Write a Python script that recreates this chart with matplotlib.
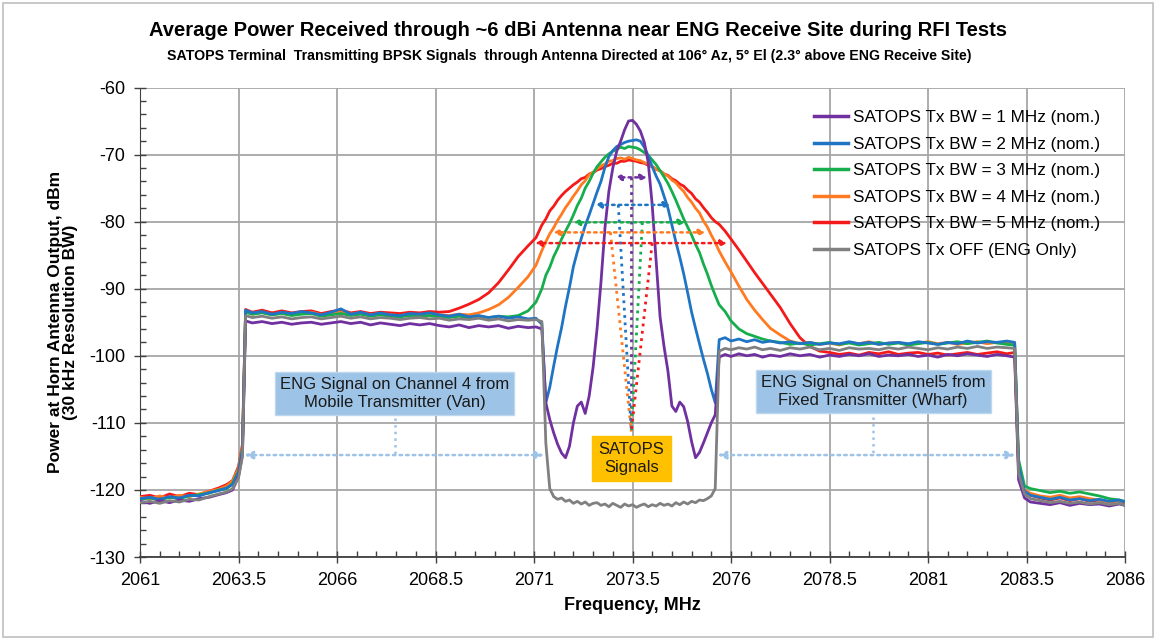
import matplotlib
matplotlib.use("Agg")
import matplotlib.pyplot as plt
from matplotlib.ticker import MultipleLocator
from matplotlib.patches import Rectangle

# frequency grid (MHz), split into spectral regions
freq_lo = [2061.0, 2061.25, 2061.5, 2061.75, 2062.0, 2062.25, 2062.5, 2062.75,
           2063.0, 2063.2, 2063.35, 2063.5, 2063.6]
freq_ch4 = [2063.68, 2063.85, 2064.1, 2064.35, 2064.6, 2064.85, 2065.1, 2065.35,
            2065.6, 2065.85, 2066.1, 2066.35, 2066.6, 2066.85, 2067.1, 2067.35,
            2067.6, 2067.85, 2068.1, 2068.35, 2068.6, 2068.85, 2069.1, 2069.35,
            2069.6, 2069.85, 2070.1, 2070.35, 2070.6, 2070.85, 2071.05]
freq_mid = [2071.2, 2071.3, 2071.4, 2071.5, 2071.6, 2071.7, 2071.8, 2071.9,
            2072.0, 2072.1, 2072.2, 2072.3, 2072.4, 2072.5, 2072.6, 2072.7,
            2072.8, 2072.9, 2073.0, 2073.1, 2073.2, 2073.3, 2073.4, 2073.5,
            2073.6, 2073.7, 2073.8, 2073.9, 2074.0, 2074.1, 2074.2, 2074.3,
            2074.4, 2074.5, 2074.6, 2074.7, 2074.8, 2074.9, 2075.0, 2075.1,
            2075.2, 2075.3, 2075.4, 2075.5, 2075.6]
freq_ch5 = [2075.7, 2075.85, 2076.0, 2076.2, 2076.4, 2076.6, 2076.8, 2077.0,
            2077.25, 2077.5, 2077.75, 2078.0, 2078.25, 2078.5, 2078.75, 2079.0,
            2079.25, 2079.5, 2079.75, 2080.0, 2080.25, 2080.5, 2080.75, 2081.0,
            2081.25, 2081.5, 2081.75, 2082.0, 2082.25, 2082.5, 2082.75, 2083.0,
            2083.2]
freq_hi = [2083.3, 2083.45, 2083.6, 2083.85, 2084.1, 2084.35, 2084.6, 2084.85,
           2085.1, 2085.35, 2085.6, 2085.85, 2086.0]

# ---- SATOPS Tx BW = 1 MHz (purple)
bw1_lo = [-121.7, -122.0, -121.6, -121.9, -121.5, -121.7, -121.3, -121.1, -120.7, -120.4, -120.0, -118.0, -114.8]
bw1_ch4 = [-94.8, -95.1, -94.9, -95.2, -95.0, -95.3, -95.1, -95.0, -95.3, -95.1, -94.9, -95.2, -95.0, -95.4, -95.1, -95.3,
           -95.5, -95.2, -95.4, -95.2, -95.5, -95.7, -95.4, -95.8, -95.5, -95.7, -95.5, -95.9, -95.6, -95.8, -95.7]
bw1_mid = [-96.0, -107.0, -109.5, -111.5, -113.2, -114.5, -115.2, -113.5, -110.0, -107.5, -106.9, -108.6, -106.0, -101.7,
           -96.0, -89.0, -81.0, -75.5, -72.0, -69.5, -68.0, -66.3, -65.0, -64.9, -65.5, -66.5, -68.2, -71.2, -77.5, -85.8,
           -94.2, -98.6, -102.3, -107.5, -108.3, -106.9, -107.6, -109.8, -112.8, -115.2, -114.4, -113.0, -111.5, -110.0, -108.8]
bw1_ch5 = [-100.2, -99.8, -100.1, -99.7, -100.0, -99.8, -100.2, -99.9, -100.1, -99.7, -100.0, -99.8, -100.2, -99.9, -100.1,
           -99.8, -100.0, -99.7, -100.1, -99.9, -100.0, -99.8, -100.1, -99.9, -100.2, -99.8, -100.0, -99.7, -99.9, -100.1,
           -99.8, -100.0, -100.2]
bw1_hi = [-118.5, -121.2, -121.8, -122.0, -122.2, -121.9, -122.3, -122.0, -122.2, -122.1, -122.4, -122.1, -122.3]

# ---- SATOPS Tx BW = 2 MHz (blue)
bw2_lo = [-121.3, -121.1, -121.4, -121.0, -121.2, -120.8, -120.9, -120.4, -120.1, -119.7, -119.2, -117.4, -114.0]
bw2_ch4 = [-93.2, -93.6, -93.4, -93.8, -93.5, -93.7, -93.4, -93.6, -93.9, -93.5, -93.0, -93.8, -93.5, -93.9, -93.6, -93.9,
           -94.0, -93.7, -93.8, -93.6, -93.9, -94.1, -93.8, -94.2, -94.0, -94.3, -94.1, -94.4, -94.2, -94.5, -94.4]
bw2_mid = [-95.3, -107.0, -104.7, -101.5, -98.5, -95.8, -92.6, -89.8, -86.7, -84.5, -82.5, -80.6, -79.0, -77.3, -75.6,
           -74.0, -71.9, -70.3, -69.4, -68.8, -68.5, -68.2, -68.0, -67.9, -67.8, -68.0, -68.9, -70.2, -71.8, -73.2,
           -74.4, -76.2, -78.0, -80.5, -83.0, -85.3, -87.8, -90.6, -93.5, -95.9, -98.2, -100.5, -102.6, -105.0, -107.0]
bw2_ch5 = [-97.6, -97.3, -97.8, -97.5, -97.9, -97.6, -98.0, -97.8, -98.1, -97.9, -98.2, -98.0, -98.3, -98.1, -98.2,
           -97.9, -98.2, -98.0, -98.3, -98.1, -98.0, -98.2, -97.9, -98.1, -98.3, -98.0, -98.2, -97.8, -98.1, -97.9,
           -98.0, -97.8, -98.0]
bw2_hi = [-116.5, -120.2, -120.8, -121.1, -121.4, -121.1, -121.5, -121.3, -121.6, -121.4, -121.7, -121.5, -121.8]

# ---- SATOPS Tx BW = 3 MHz (green)
bw3_lo = [-121.4, -121.2, -121.5, -121.1, -121.3, -120.9, -120.7, -120.5, -120.0, -119.8, -119.0, -117.2, -113.8]
bw3_ch4 = [-93.5, -93.8, -93.6, -93.9, -93.7, -94.0, -93.8, -93.7, -94.1, -93.9, -93.7, -94.0, -93.8, -94.1, -93.9, -94.1,
           -94.2, -94.0, -94.2, -94.0, -94.2, -94.3, -94.1, -94.4, -94.2, -94.3, -94.1, -94.2, -94.0, -93.3, -92.0]
bw3_mid = [-90.0, -88.0, -86.8, -85.2, -84.0, -82.6, -81.4, -80.3, -79.0, -77.6, -76.5, -75.0, -74.0, -72.8, -71.8,
           -71.1, -70.4, -69.9, -69.5, -69.2, -68.9, -69.1, -68.8, -68.9, -69.0, -69.3, -69.7, -70.1, -70.8, -71.5,
           -72.4, -73.3, -74.3, -75.5, -76.8, -78.2, -79.6, -80.8, -82.0, -83.4, -84.6, -86.3, -87.8, -89.5, -91.0]
bw3_ch5 = [-92.4, -93.4, -94.8, -96.0, -96.7, -97.1, -97.5, -97.8, -98.0, -98.3, -98.1, -98.4, -98.2, -98.0, -98.3,
           -98.1, -98.4, -98.2, -98.0, -98.3, -98.1, -98.4, -98.2, -98.0, -98.3, -98.1, -97.9, -98.2, -98.0, -97.8,
           -98.1, -98.3, -98.4]
bw3_hi = [-115.5, -119.4, -119.8, -120.1, -120.4, -120.2, -120.5, -120.3, -120.6, -120.9, -121.3, -121.5, -121.7]

# ---- SATOPS Tx BW = 4 MHz (orange)
bw4_lo = [-121.1, -121.3, -120.9, -121.2, -120.8, -121.0, -120.6, -120.2, -119.9, -119.4, -118.7, -116.8, -113.5]
bw4_ch4 = [-93.4, -93.8, -93.5, -93.9, -93.6, -93.9, -93.6, -93.5, -93.9, -93.7, -93.5, -93.8, -93.6, -93.9, -93.7, -93.9,
           -94.0, -93.8, -94.0, -93.8, -93.9, -94.0, -93.8, -93.9, -93.6, -93.1, -92.4, -91.3, -89.8, -88.2, -86.5]
bw4_mid = [-84.3, -83.0, -81.8, -80.9, -79.8, -78.9, -77.9, -77.1, -76.2, -75.4, -74.5, -73.9, -73.0, -72.6, -72.1,
           -71.7, -71.4, -71.0, -70.9, -70.6, -70.5, -70.7, -70.4, -70.6, -70.8, -70.9, -71.2, -71.4, -71.8, -72.2,
           -72.4, -72.9, -73.2, -73.8, -74.2, -74.9, -75.5, -76.4, -77.1, -78.0, -78.7, -79.9, -80.8, -82.0, -83.1]
bw4_ch5 = [-84.4, -86.0, -87.5, -89.6, -91.6, -93.2, -94.6, -95.9, -96.9, -97.8, -98.2, -98.0, -98.3, -98.1, -98.4,
           -98.0, -98.2, -97.9, -98.3, -98.1, -98.0, -98.3, -98.1, -97.9, -98.2, -98.0, -98.3, -98.1, -97.9, -98.2,
           -98.0, -98.1, -98.2]
bw4_hi = [-116.8, -120.0, -120.5, -120.9, -121.1, -120.8, -121.2, -121.0, -121.3, -121.5, -121.8, -121.6, -121.9]

# ---- SATOPS Tx BW = 5 MHz (red)
bw5_lo = [-121.0, -120.8, -121.2, -120.6, -121.0, -120.5, -120.7, -120.2, -119.7, -119.2, -118.6, -116.5, -113.2]
bw5_ch4 = [-93.1, -93.5, -93.2, -93.6, -93.3, -93.6, -93.4, -93.3, -93.7, -93.4, -93.2, -93.6, -93.4, -93.7, -93.5, -93.6,
           -93.7, -93.5, -93.6, -93.4, -93.5, -93.4, -92.9, -92.3, -91.6, -90.6, -89.1, -87.2, -85.2, -83.6, -82.4]
bw5_mid = [-80.5, -79.6, -78.4, -77.7, -76.8, -76.1, -75.5, -75.0, -74.5, -74.1, -73.6, -73.4, -72.9, -72.7, -72.3,
           -72.1, -71.8, -71.6, -71.3, -71.3, -71.0, -71.0, -70.8, -70.9, -71.0, -71.2, -71.3, -71.6, -71.8, -72.2,
           -72.4, -72.9, -73.1, -73.6, -73.9, -74.4, -74.7, -75.3, -75.8, -76.6, -77.1, -77.9, -78.6, -79.4, -80.0]
bw5_ch5 = [-80.4, -81.4, -82.6, -84.2, -85.9, -87.6, -89.2, -90.8, -92.8, -95.2, -97.3, -98.6, -99.3, -99.5, -99.8,
           -99.6, -99.9, -99.5, -99.7, -99.4, -99.8, -99.6, -99.5, -99.8, -99.6, -99.9, -99.7, -99.5, -99.8, -99.6,
           -99.4, -99.7, -99.5]
bw5_hi = [-117.0, -120.3, -120.8, -121.2, -121.5, -121.2, -121.6, -121.3, -121.7, -121.5, -121.8, -121.6, -122.0]

# ---- SATOPS Tx OFF (gray)
off_lo = [-121.9, -121.7, -122.0, -121.6, -121.8, -121.4, -121.5, -121.0, -120.6, -120.3, -119.8, -118.2, -115.0]
off_ch4 = [-94.0, -94.3, -94.1, -94.4, -94.2, -94.5, -94.3, -94.2, -94.5, -94.3, -94.1, -94.4, -94.2, -94.5, -94.3, -94.4,
           -94.6, -94.4, -94.3, -94.5, -94.4, -94.7, -94.5, -94.6, -94.4, -94.7, -94.5, -94.8, -94.6, -94.7, -94.6]
off_mid = [-94.9, -113.0, -119.8, -121.0, -121.4, -121.2, -121.7, -121.5, -122.0, -121.7, -122.1, -121.8, -122.3, -122.0,
           -121.9, -122.3, -122.1, -122.5, -122.0, -122.3, -122.6, -122.1, -122.4, -122.2, -122.6, -122.3, -122.1,
           -122.5, -122.2, -122.4, -122.0, -122.3, -122.1, -122.4, -121.9, -122.2, -121.8, -122.1, -121.7, -121.9,
           -121.5, -121.6, -121.3, -120.9, -119.8]
off_ch5 = [-99.3, -98.9, -99.1, -98.8, -99.0, -98.7, -99.1, -98.9, -99.2, -98.8, -99.0, -98.7, -99.1, -98.9, -99.2,
           -98.8, -99.0, -98.9, -99.1, -98.8, -99.0, -98.7, -98.9, -99.1, -98.8, -99.0, -98.7, -98.9, -98.6, -98.9,
           -98.7, -98.8, -98.9]
off_hi = [-117.5, -120.6, -121.3, -121.6, -121.9, -121.7, -122.0, -121.8, -122.1, -121.9, -122.2, -122.0, -122.3]

labels = ["SATOPS Tx BW = 1 MHz (nom.)", "SATOPS Tx BW = 2 MHz (nom.)",
          "SATOPS Tx BW = 3 MHz (nom.)", "SATOPS Tx BW = 4 MHz (nom.)",
          "SATOPS Tx BW = 5 MHz (nom.)", "SATOPS Tx OFF (ENG Only)"]
colors = ["#7030A0", "#1F74C4", "#16AE4C", "#FF7A21", "#F41A1A", "#808080"]
x_ticks = [2061, 2063.5, 2066, 2068.5, 2071, 2073.5, 2076, 2078.5, 2081, 2083.5, 2086]
x_ticklabels = ["2061", "2063.5", "2066", "2068.5", "2071", "2073.5", "2076",
                "2078.5", "2081", "2083.5", "2086"]

# occupied-bandwidth markers (purple, blue, green, orange, red)
bw_lo = [2073.06, 2072.55, 2072.0, 2071.49, 2071.03]
bw_hi = [2073.87, 2074.46, 2074.84, 2075.35, 2075.9]
bw_level = [-73.4, -77.5, -80.1, -81.6, -83.2]
bw_drop = [2073.47, 2073.14, 2073.75, 2072.94, 2074.0]
apex_f, apex_v = 2073.47, -111.3

freq = freq_lo + freq_ch4 + freq_mid + freq_ch5 + freq_hi
series = [
    bw1_lo + bw1_ch4 + bw1_mid + bw1_ch5 + bw1_hi,
    bw2_lo + bw2_ch4 + bw2_mid + bw2_ch5 + bw2_hi,
    bw3_lo + bw3_ch4 + bw3_mid + bw3_ch5 + bw3_hi,
    bw4_lo + bw4_ch4 + bw4_mid + bw4_ch5 + bw4_hi,
    bw5_lo + bw5_ch4 + bw5_mid + bw5_ch5 + bw5_hi,
    off_lo + off_ch4 + off_mid + off_ch5 + off_hi,
]

plt.rcParams["font.family"] = ["Liberation Sans", "DejaVu Sans"]
plt.rcParams["axes.unicode_minus"] = False

fig = plt.figure(figsize=(11.56, 6.4), dpi=100)
fig.patches.append(Rectangle((0.003, 0.004), 0.994, 0.992, transform=fig.transFigure,
                             fill=False, edgecolor="#BFBFBF", lw=1.2))
ax = fig.add_axes([140 / 1156, 1 - 557 / 640, 985 / 1156, 469.5 / 640])

handles = []
draw_order = [4, 3, 2, 1, 0, 5]
for i in draw_order:
    h, = ax.plot(freq, series[i], color=colors[i], lw=2.0, label=labels[i], zorder=3)
    handles.append((i, h))
handles = [h for i, h in sorted(handles)]

# bandwidth arrows and dotted drops to the label
for k in range(5):
    ax.annotate("", xy=(bw_lo[k], bw_level[k]), xytext=(bw_hi[k], bw_level[k]),
                arrowprops=dict(arrowstyle="<|-|>,head_length=0.35,head_width=0.18",
                                color=colors[k], lw=1.8, linestyle=":",
                                shrinkA=0, shrinkB=0), zorder=4)
    ax.plot([bw_drop[k], apex_f], [bw_level[k], apex_v], color=colors[k], lw=2.0,
            linestyle=":", zorder=4)

eng_blue = "#9DC3E6"
for a, b in [(2063.64, 2071.26), (2075.65, 2083.22)]:
    ax.annotate("", xy=(a, -114.8), xytext=(b, -114.8),
                arrowprops=dict(arrowstyle="<|-|>,head_length=0.5,head_width=0.22",
                                color=eng_blue, lw=1.8, linestyle=":", shrinkA=0, shrinkB=0))
ax.plot([2067.46, 2067.46], [-109.3, -114.8], color=eng_blue, lw=1.8, linestyle=":")
ax.plot([2079.61, 2079.61], [-109.2, -114.8], color=eng_blue, lw=1.8, linestyle=":")

box_kw = dict(ha="center", va="center", fontsize=12, color="#1a1a1a", zorder=6)
ax.text(2067.46, -105.6, "ENG Signal on Channel 4 from\nMobile Transmitter (Van)",
        bbox=dict(boxstyle="square,pad=0.3", fc=eng_blue, ec="#BDD7EE", lw=1), **box_kw)
ax.text(2079.61, -105.3, "ENG Signal on Channel5 from\nFixed Transmitter (Wharf)",
        bbox=dict(boxstyle="square,pad=0.3", fc=eng_blue, ec="#BDD7EE", lw=1), **box_kw)
ax.text(2073.47, -115.3, "SATOPS\nSignals",
        bbox=dict(boxstyle="square,pad=0.4", fc="#FFC000", ec="#FFC000", lw=1), **box_kw)

ax.set_xticks(x_ticks)
ax.set_xticklabels(x_ticklabels)
ax.xaxis.set_minor_locator(MultipleLocator(0.5))
ax.yaxis.set_major_locator(MultipleLocator(10))
ax.yaxis.set_minor_locator(MultipleLocator(2))
ax.set_xlim(2061, 2086)
ax.set_ylim(-130, -60)
ax.grid(which="major", color="#A6A6A6", lw=1.3, zorder=0)
ax.set_axisbelow(True)
for s in ["top", "right"]:
    ax.spines[s].set_visible(False)
ax.spines["left"].set_color("#404040")
ax.spines["bottom"].set_color("#404040")
ax.spines["bottom"].set_linewidth(1.3)
ax.tick_params(which="major", direction="inout", length=9, width=1, color="#404040",
               labelsize=13, pad=6)
ax.tick_params(which="minor", direction="in", length=4, width=1, color="#404040")

ax.set_xlabel("Frequency, MHz", fontsize=13, fontweight="bold", labelpad=6)
ax.set_ylabel("Power at Horn Antenna Output, dBm\n(30 kHz Resolution BW)", fontsize=12.5,
              fontweight="bold", linespacing=1.0, labelpad=8)

leg = ax.legend(handles=handles, loc="upper right", bbox_to_anchor=(0.99, 0.985), frameon=False,
                fontsize=12.3, handlelength=2.0, handletextpad=0.25, labelspacing=0.68)
for line in leg.get_lines():
    line.set_linewidth(2.5)

fig.text(0.5, 0.952, "Average Power Received through ~6 dBi Antenna near ENG Receive Site during RFI Tests",
         ha="center", va="center", fontsize=14.5, fontweight="bold")
fig.text(0.492, 0.913, "SATOPS Terminal  Transmitting BPSK Signals  through Antenna Directed at 106\u00b0 Az, "
         "5\u00b0 El (2.3\u00b0 above ENG Receive Site)",
         ha="center", va="center", fontsize=10.2, fontweight="bold")

fig.savefig("out.png", dpi=100)
